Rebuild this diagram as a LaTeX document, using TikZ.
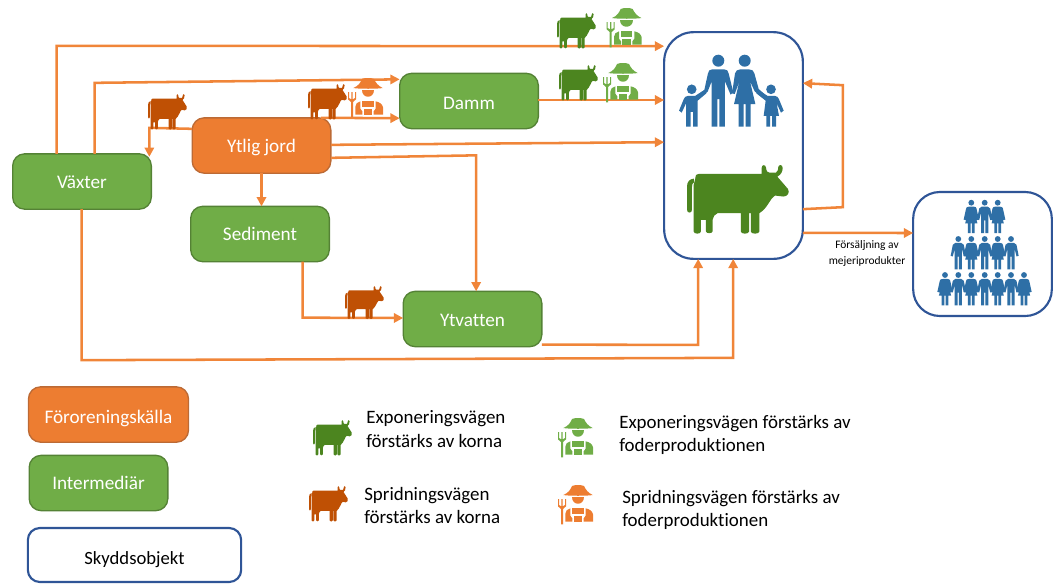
\documentclass[tikz,border=0pt]{standalone}
\usepackage{fontspec}
\setmainfont{Carlito}[RawFeature={-liga;-dlig;-clig}]
\usetikzlibrary{arrows.meta,calc}
\definecolor{cgreen}{HTML}{70AD47}
\definecolor{cgreenb}{HTML}{548235}
\definecolor{corange}{HTML}{ED7D31}
\definecolor{corangeb}{HTML}{BC6A35}
\definecolor{cblue}{HTML}{2F5597}
\definecolor{cpeople}{HTML}{2E6FA6}
\definecolor{ccowg}{HTML}{4C851F}
\definecolor{ccowb}{HTML}{BF5004}
\definecolor{cline}{HTML}{F08539}
\tikzset{
  x=0.75pt,y=-0.75pt,
  basebox/.style={rectangle,rounded corners=9pt,outer sep=0pt,inner sep=0pt,line width=1pt,font=\fontsize{14.4pt}{16pt}\selectfont,text depth=0pt},
  greenbox/.style={basebox,draw=cgreenb,fill=cgreen,text=white,minimum width=104pt,minimum height=41.5pt},
  orangebox/.style={basebox,draw=corangeb,fill=corange,text=white,minimum width=104pt,minimum height=41.5pt},
  conn/.style={draw=cline,line width=1.9pt,-{Triangle[length=7pt,width=7pt]}},
  target/.style={rectangle,draw=cblue,line width=1.6pt,fill=white,outer sep=0pt,inner sep=0pt},
  note/.style={align=left,anchor=west,inner sep=0pt,font=\fontsize{14.2pt}{17.5pt}\selectfont},
  smallcow/.style={xscale=.127,yscale=.172},
  cow/.pic={
    \path[pic actions] (25,40) .. controls (26,30) and (28,27) .. (35,27) -- (225,27) -- (225,8)
      .. controls (225,-2) and (237,-2) .. (238,8) .. controls (239,18) and (242,23) .. (248,23) -- (268,23)
      .. controls (274,20) and (275,12) .. (275,6) .. controls (276,-2) and (288,-2) .. (288,8)
      .. controls (289,20) and (282,30) .. (272,35) -- (304,72)
      .. controls (311,84) and (302,95) .. (290,95) -- (265,92)
      .. controls (250,100) and (245,128) .. (218,145) -- (218,200)
      .. controls (218,209) and (192,209) .. (192,200) -- (192,145) -- (187,145) -- (187,200)
      .. controls (187,209) and (162,209) .. (162,200) -- (162,145) -- (92,145)
      .. controls (84,148) and (78,156) .. (77,165) -- (77,200) .. controls (77,207) and (57,207) .. (57,200) -- (57,165) -- (42,165) -- (42,200)
      .. controls (42,209) and (20,209) .. (20,200) -- (20,60) -- cycle;
    \path[pic actions] (0,135) -- (0,65) .. controls (0,50) and (8,42) .. (21,41) -- (21,52)
      .. controls (17,54) and (15,58) .. (15,65) -- (15,135) .. controls (15,146) and (0,146) .. (0,135) -- cycle;
  },
  farmer/.pic={
    \path[pic actions] (16,30) .. controls (32,24) and (38,12) .. (42,3) .. controls (50,-1) and (70,-1) .. (78,3)
      .. controls (82,12) and (90,24) .. (104,30) .. controls (90,33) and (30,33) .. (16,30) -- cycle;
    \path[pic actions] (41,36) -- (79,36) .. controls (79,62) and (41,62) .. (41,36) -- cycle;
    \path[pic actions] (43,68) -- (77,68) -- (77,88) -- (43,88) -- cycle;
    \path[pic actions] (37,70) -- (37,92) -- (43,100) -- (43,110) -- (22,110) -- (22,86) .. controls (22,78) and (28,72) .. (37,70) -- cycle;
    \path[pic actions] (83,70) -- (83,92) -- (77,100) -- (77,110) -- (105,110) -- (105,88) .. controls (103,78) and (94,72) .. (83,70) -- cycle;
    \path[pic actions] (47,92) -- (73,92) -- (73,110) -- (47,110) -- cycle;
    \path[pic actions] (0,42) -- (3,42) -- (3,60) -- (10,64) -- (10,42) -- (14,42) -- (14,64) -- (21,60) -- (21,42) -- (24,42) -- (24,64)
      -- (15,72) -- (15,118) -- (9,118) -- (9,72) -- (0,64) -- cycle;
  },
  manicon/.pic={
    \path[pic actions] (0,0) circle (18);
    \path[pic actions] (-18,26) -- (18,26) .. controls (26,26) and (29,30) .. (31,38) -- (45,95) -- (37,102) -- (20,62) -- (20,198) -- (3,198) -- (3,115) -- (-3,115) -- (-3,198) -- (-20,198) -- (-20,62) -- (-32,93) -- (-60,115) -- (-65,105) -- (-42,88) -- (-31,38) .. controls (-29,30) and (-26,26) .. (-18,26) -- cycle;
  },
  womanicon/.pic={
    \path[pic actions] (0,0) circle (18);
    \path[pic actions] (-13,26) -- (13,26) .. controls (22,26) and (27,30) .. (29,38) -- (42,85) -- (68,108) -- (62,118) -- (30,92) -- (16,62) -- (32,130) -- (18,130) -- (18,198) -- (3,198) -- (3,130) -- (-3,130) -- (-3,198) -- (-18,198) -- (-18,130) -- (-32,130) -- (-16,62) -- (-30,100) -- (-38,98) -- (-29,38) .. controls (-27,30) and (-22,26) .. (-13,26) -- cycle;
  },
  boyicon/.pic={
    \path[pic actions] (0,0) circle (14.5);
    \path[pic actions] (-12,20) -- (10,20) -- (38,2) -- (44,12) -- (18,34) -- (18,112) -- (4,112) -- (4,68) -- (-3,68) -- (-3,112) -- (-17,112) -- (-17,42) -- (-30,70) -- (-38,64) -- (-24,30) .. controls (-22,24) and (-18,20) .. (-12,20) -- cycle;
  },
  girlicon/.pic={
    \path[pic actions] (0,0) circle (14.5);
    \path[pic actions] (-10,20) -- (-38,2) -- (-44,12) -- (-16,34) -- (-22,80) -- (-14,80) -- (-14,112) -- (-3,112) -- (-3,80) -- (3,80) -- (3,112) -- (15,112) -- (15,80) -- (24,80) -- (17,42) -- (30,70) -- (38,64) -- (24,30) .. controls (22,24) and (18,20) .. (12,20) -- cycle;
  },
  crowdman/.pic={
    \path[pic actions] (0,0) circle (19);
    \path[pic actions] (-20,26) -- (20,26) .. controls (30,26) and (34,30) .. (36,38) -- (50,110) -- (36,114) -- (24,66) -- (24,198) -- (4,198) -- (4,115) -- (-4,115) -- (-4,198) -- (-24,198) -- (-24,66) -- (-36,114) -- (-50,110) -- (-36,38) .. controls (-34,30) and (-30,26) .. (-20,26) -- cycle;
  },
  crowdwoman/.pic={
    \path[pic actions] (0,0) circle (19);
    \path[pic actions] (-16,26) -- (16,26) .. controls (28,26) and (32,30) .. (34,38) -- (50,110) -- (36,114) -- (22,66) -- (40,135) -- (22,135) -- (22,198) -- (4,198) -- (4,135) -- (-4,135) -- (-4,198) -- (-22,198) -- (-22,135) -- (-40,135) -- (-22,66) -- (-36,114) -- (-50,110) -- (-34,38) .. controls (-32,30) and (-28,26) .. (-16,26) -- cycle;
  },
}
\begin{document}
\begin{tikzpicture}
\useasboundingbox (0,0) rectangle (1057,583);
% boxes
\node[greenbox,text height=9.8pt] (vax) at (82,181.5) {Växter};
\node[orangebox,text height=9.8pt] (jord) at (261.5,145.5) {Ytlig jord};
\node[greenbox,text height=12pt] (damm) at (469,101) {Damm};
\node[greenbox,text height=9pt] (sed) at (260,234) {Sediment};
\node[greenbox,text height=10.5pt] (vatten) at (472.5,319) {Ytvatten};
\node[target,rounded corners=22pt,minimum width=104pt,minimum height=170pt] (big) at (733.5,145.5) {};
\node[target,rounded corners=20pt,minimum width=104pt,minimum height=93pt] (crowd) at (982.5,254) {};
\node[orangebox,minimum width=120pt,text height=12.8pt] (lsrc) at (108.5,414.5) {Föroreningskälla};
\node[greenbox,text height=9pt] (lint) at (98.5,483) {Intermediär};
\node[target,rounded corners=9pt,text=black,minimum width=160pt,minimum height=40.5pt,font=\fontsize{14pt}{16pt}\selectfont,text depth=0pt,text height=13.5pt] (lobj) at (134.5,555) {Skyddsobjekt};
% connectors
\draw[conn] ($(vax.north west)+(44,0)$) -- ++(0,-108) -- ($(big.north west)+(0,14)$);
\draw[conn] ($(vax.north west)+(82,0)$) -- ++(0,-71) -- ($(damm.north west)+(0,6)$);
\draw[conn] ($(jord.north west)+(0,11)$) -- ($(vax.north east)+(-2,-26)$) -- ($(vax.north east)+(-2,3)$);
\draw[conn] ($(jord.north east)+(-10,0)$) -- ($(damm.south west)+(0,-10.5)$);
\draw[conn] ($(jord.north east)+(0,27)$) -- ($(big.north west)+(0,110)$);
\draw[conn] ($(jord.north east)+(0,40)$) -- ($(vatten.north west)+(73,-136)$) -- ($(vatten.north west)+(73,0)$);
\draw[conn] (jord.south) -- (jord.south |- sed.north);
\draw[conn] ($(sed.south west)+(112,0)$) -- ++(0,56) -- (vatten.west |- 0,318);
\draw[conn] ($(vatten.south east)+(0,-2)$) -- ($(big.south west)+(34,86)$) -- ($(big.south west)+(34,0)$);
\draw[conn] ($(vax.south west)+(69,0)$) -- ++(0,151) -- ($(big.south west)+(69,99)$) -- ($(big.south west)+(69,0)$);
\draw[conn] ($(damm.east)+(0,-1)$) -- (big.west |- 0,100);
\draw[conn] ($(big.north east)+(0,177)$) -- ($(big.north east)+(40,175)$) -- ($(big.north east)+(40,53)$) -- ($(big.north east)+(0,51)$);
\draw[conn] ($(big.south east)+(0,-26)$) -- (crowd.west |- 0,233);
% label
\node[align=center,inner sep=0pt,font=\fontsize{8.6pt}{11.6pt}\selectfont] (sale) at (867,253.5) {Försäljning av\\mejeriprodukter};
% cows
\pic[fill=ccowg,smallcow] at (557,13) {cow};
\pic[fill=ccowg,smallcow] at (559,65) {cow};
\pic[fill=ccowb,smallcow] at (148,94) {cow};
\pic[fill=ccowb,smallcow] at (308,84) {cow};
\pic[fill=ccowb,xscale=.127,yscale=.16] at (345,286) {cow};
\pic[fill=ccowg,smallcow] at (313,420) {cow};
\pic[fill=ccowb,smallcow] at (309,486) {cow};
\pic[fill=ccowg,scale=.332] at (687,165) {cow};
% farmers
\pic[fill=cgreen,scale=.3333] at (606.7,8) {farmer};
\pic[fill=cgreen,scale=.3333] at (603,63) {farmer};
\pic[fill=corange,scale=.3333] at (348,78) {farmer};
\pic[fill=cgreen,scale=.3333] at (558,418) {farmer};
\pic[fill=corange,scale=.3333] at (558,485) {farmer};
% family
\pic[fill=cpeople,scale=.3333] at (691.7,89.3) {boyicon};
\pic[fill=cpeople,scale=.3333] at (718.3,60.7) {manicon};
\pic[fill=cpeople,scale=.3333] at (744.7,60.7) {womanicon};
\pic[fill=cpeople,scale=.3333] at (771,89.3) {girlicon};
% crowd
\foreach \px/\py/\kind in {971.3/202.7/crowdwoman,984.7/202.7/crowdman,997.7/202.7/crowdwoman,
  958.3/239/crowdman,971.3/239/crowdwoman,984.7/239/crowdman,997.7/239/crowdwoman,1011/239/crowdman,
  945/275/crowdwoman,958.3/275/crowdman,971.3/275/crowdwoman,984.7/275/crowdman,997.7/275/crowdwoman,1011/275/crowdman,1024/275/crowdwoman}
  {\pic[fill=cpeople,scale=.153] at (\px,\py) {\kind};}
% legend text
\node[note] (n1) at (366,429) {Exponeringsvägen\\förstärks av korna};
\node[note] (n2) at (364,505.5) {Spridningsvägen\\förstärks av korna};
\node[note] (n3) at (619,435) {Exponeringsvägen förstärks av\\foderproduktionen};
\node[note] (n4) at (622,510) {Spridningsvägen förstärks av\\foderproduktionen};
\end{tikzpicture}
\end{document}
